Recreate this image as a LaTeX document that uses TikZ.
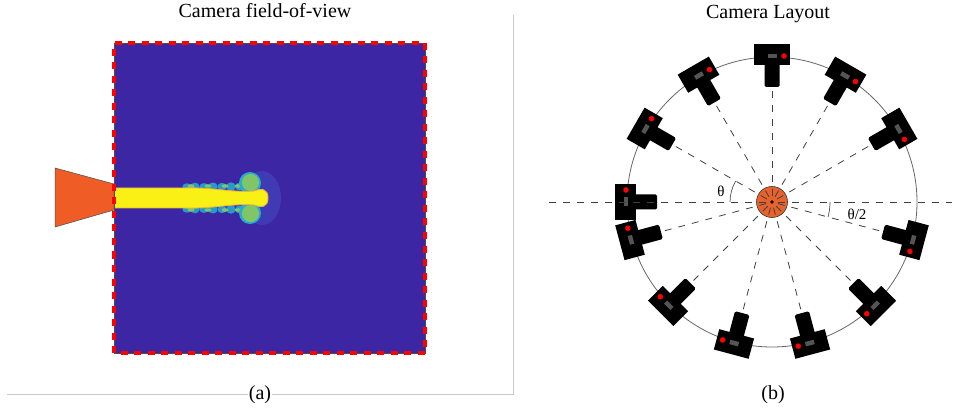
\documentclass[tikz,border=0pt]{standalone}
\usepackage{xcolor}
\usepackage{fontspec}
\setmainfont{Liberation Serif}
\usepackage{tikz}

\definecolor{fovblue}{RGB}{61,38,163}
\definecolor{jetyellow}{RGB}{249,240,22}
\definecolor{jetgreen}{RGB}{128,198,104}
\definecolor{jetcyan}{RGB}{38,172,210}
\definecolor{jethalo}{RGB}{72,96,214}
\definecolor{jetorange}{RGB}{236,180,60}
\definecolor{nozzle}{RGB}{240,92,38}
\definecolor{hubfill}{RGB}{232,98,45}
\definecolor{framegray}{RGB}{200,200,200}
\definecolor{camgray}{RGB}{85,85,85}

\tikzset{
  title/.style={anchor=base, font=\fontsize{20}{24}\selectfont},
  angletext/.style={font=\fontsize{15}{18}\selectfont},
  ray/.style={draw=black!75, line width=0.8, dash pattern=on 7 off 7, dash phase=8},
  hub/.style={circle, minimum size=31, inner sep=0, fill=hubfill, draw=black!80, line width=0.6},
  camera/.pic={
    \fill[black, rounded corners=1.5] (-7.5,-32) rectangle (7.5,-8);
    \fill[black] (-18,-10.5) rectangle (18,10.5);
    \fill[camgray] (-4.5,-3.2) rectangle (4.5,1.3);
    \fill[red] (12,-1) circle (2.8);
    \coordinate (-lens) at (0,-32);
  },
}

\begin{document}
\begin{tikzpicture}[x=1pt, y=1pt]
  \useasboundingbox (0,0) rectangle (966,410);

  % (a) field of view
  \node[title] (fovtitle) at (265,392) {Camera field-of-view};
  \fill[fovblue] (114,57) rectangle (425,367);

  \fill[jethalo, opacity=0.35] (262,212) ellipse (19 and 27);
  \fill[jethalo, opacity=0.35, rounded corners=5] (180,201) rectangle (258,223);
  \foreach \x/\r in {187/3.2,195/3.8,204/3.4,213/4,222/3.6,231/4.2,240/4} {
    \fill[jetcyan, opacity=0.85] (\x,223.5) ellipse (4.6 and \r);
    \fill[jetcyan, opacity=0.85] (\x,200.5) ellipse (4.6 and \r);
  }
  \foreach \x in {191,208,225,238} {
    \fill[jetgreen] (\x,224) ellipse (3.4 and 1.8);
    \fill[jetgreen] (\x,200) ellipse (3.4 and 1.8);
  }
  \fill[jetcyan] (250,227) circle (11);
  \fill[jetcyan] (250,197) circle (11);
  \fill[jetgreen] (250.5,227.5) circle (8.6);
  \fill[jetgreen] (250.5,196.5) circle (8.6);
  \filldraw[fill=jetyellow, draw=jetorange, line width=0.9]
    (114,222) -- (184,222) .. controls (212,223) and (234,217) .. (254,219)
    .. controls (262,222) and (268,221) .. (268,212)
    .. controls (268,203) and (262,202) .. (254,205)
    .. controls (234,207) and (212,201) .. (184,202) -- (114,202) -- cycle;

  \filldraw[fill=nozzle, draw=black!70, line width=0.5]
    (55,242) -- (114,226) -- (114,200) -- (55,183) -- cycle;
  \draw[black!70, line width=0.6] (114,57) rectangle (425,367);
  \draw[red, line width=3.4, dash pattern=on 7 off 6.5] (114,57) rectangle (425,367);

  \draw[framegray, line width=1] (513,395) -- (513,16) -- (7,16);
  \node[title, fill=white, inner sep=1] (capa) at (260,11) {(a)};

  % (b) camera layout
  \node[title] (laytitle) at (768,391) {Camera Layout};
  \node[title] (capb) at (773,11) {(b)};

  \begin{scope}[shift={(772,208)}]
    \draw[black!60, line width=0.8] (0,0) circle (145);
    \node[hub] (hub) at (0,0) {};
    \coordinate (west) at (-224,0);
    \coordinate (east) at (180,0);

    \pic[rotate=-60] (c30) at (30:147) {camera};
    \pic[rotate=-30] (c60) at (60:147) {camera};
    \pic (c90) at (90:147) {camera};
    \pic[rotate=30] (c120) at (120:147) {camera};
    \pic[rotate=60] (c150) at (150:147) {camera};
    \pic[rotate=90] (c180) at (180:147) {camera};
    \pic[rotate=105] (c195) at (195:147) {camera};
    \pic[rotate=135] (c225) at (225:147) {camera};
    \pic[rotate=165] (c255) at (255:147) {camera};
    \pic[rotate=195] (c285) at (285:147) {camera};
    \pic[rotate=225] (c315) at (315:147) {camera};
    \pic[rotate=255] (c345) at (345:147) {camera};

    \draw[ray] (hub.center) -- (west);
    \draw[ray] (hub.center) -- (east);
    \foreach \a in {30,60,90,120,150,180,195,225,255,285,315,345}
      \draw[ray] (hub.center) -- (c\a-lens);
    \fill[black] (hub.center) circle (1.8);

    \draw[black!70, line width=0.7] (150:42) arc[start angle=150, end angle=180, radius=42];
    \node[angletext] (th) at (-51,11) {θ};
    \draw[black!70, line width=0.7] (0:58) arc[start angle=0, end angle=-15, radius=58];
    \node[angletext] (thhalf) at (85,-12) {θ/2};
  \end{scope}
\end{tikzpicture}
\end{document}
